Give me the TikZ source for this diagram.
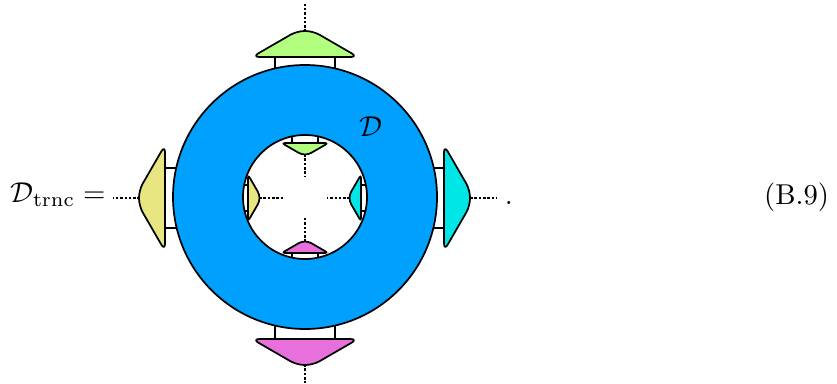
\documentclass[tikz,border=0pt]{standalone}
\definecolor{ringblue}{RGB}{0,160,255}
\definecolor{tgreen}{RGB}{178,255,128}
\definecolor{tyellow}{RGB}{232,230,128}
\definecolor{tcyan}{RGB}{0,230,230}
\definecolor{tmagenta}{RGB}{232,112,220}
\begin{document}
\begin{tikzpicture}[x=0.3484pt,y=-0.3484pt,line width=0.6pt,line join=round,
  conn/.style={dash pattern=on 0.9pt off 0.6pt,line width=0.5pt},
  tens/.pic={
    \draw (-30,0) -- (-30,30) (30,0) -- (30,30);
    \path[pic actions] (0,0) -- (-53,0) -- (-8,-26) -- (8,-26) -- (53,0) -- cycle;
  }]
\useasboundingbox (0,0) rectangle (837,383);
% outer tensors
\pic[fill=tgreen,draw,rounded corners=2.6pt] at (305,57) {tens};
\pic[fill=tyellow,draw,rounded corners=2.6pt,rotate=90] at (165,198) {tens};
\pic[fill=tcyan,draw,rounded corners=2.6pt,rotate=-90] at (444,198) {tens};
\pic[fill=tmagenta,draw,rounded corners=2.6pt,rotate=180] at (305,339) {tens};
% inner tensors
\pic[fill=tgreen,draw,rounded corners=1.1pt,rotate=180,scale=0.44] at (305,143) {tens};
\pic[fill=tyellow,draw,rounded corners=1.1pt,rotate=-90,scale=0.44] at (248,198) {tens};
\pic[fill=tcyan,draw,rounded corners=1.1pt,rotate=90,scale=0.44] at (361,198) {tens};
\pic[fill=tmagenta,draw,rounded corners=1.1pt,scale=0.44] at (305,253) {tens};
% ring
\path[fill=ringblue,draw=black,even odd rule] (305,197) circle[radius=132] (305,197) circle[radius=62];
\node (D) at (371,127) {$\mathcal{D}$};
% connector end points
\coordinate (gT) at (305,32);  \coordinate (gE) at (305,4);
\coordinate (yT) at (140,198); \coordinate (yE) at (113,198);
\coordinate (cT) at (470,198); \coordinate (cE) at (497,198);
\coordinate (mT) at (305,364); \coordinate (mE) at (305,383);
\coordinate (igT) at (305,154); \coordinate (igE) at (305,176);
\coordinate (iyT) at (259,198); \coordinate (iyE) at (283,198);
\coordinate (icT) at (350,198); \coordinate (icE) at (327,198);
\coordinate (imT) at (305,242); \coordinate (imE) at (305,218);
\foreach \a/\b in {gT/gE,yT/yE,cT/cE,mT/mE,igT/igE,iyT/iyE,icT/icE,imT/imE}
  \draw[conn] (\a) -- (\b);
\node[anchor=base west,inner sep=0pt] (lhs) at (10,202) {$\mathcal{D}_{\rm trnc} =$};
\node[anchor=base west,inner sep=0pt] (dot) at (504,204) {.};
\node[anchor=base east,inner sep=0pt] (eq) at (830,204) {(B.9)};
\end{tikzpicture}
\end{document}
